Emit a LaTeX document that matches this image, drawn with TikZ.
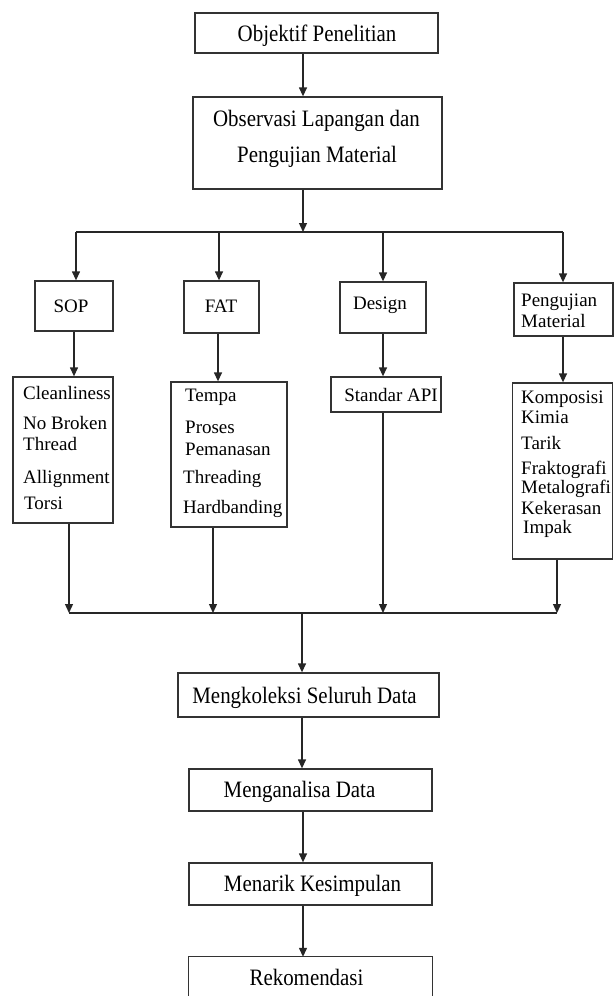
\documentclass[tikz,border=0pt]{standalone}
\usepackage{fontspec}
\setmainfont{Liberation Serif}
\newfontfamily\bigf[FakeStretch=0.89]{Liberation Serif}
\usetikzlibrary{arrows.meta}
\begin{document}
\begin{tikzpicture}[x=1pt,y=-1pt,
  bx/.style={draw=black!80, line width=1.3pt, inner sep=0pt, rectangle},
  arr/.style={draw=black!85, line width=1.3pt, -{Triangle[length=9pt,width=8pt]}},
  ln/.style={draw=black!85, line width=1.3pt},
  big/.style={inner sep=0pt, anchor=base, font=\bigf\fontsize{23.5}{28}\selectfont, text=black},
  sm/.style={inner sep=0pt, anchor=base west, font=\fontsize{19}{22}\selectfont, text=black},
  smc/.style={sm, anchor=base},
]
\useasboundingbox (0,0) rectangle (614,996);

% main column boxes
\node[bx, minimum width=243pt, minimum height=40pt] (obj) at (316.5,33) {};
\node[big] (objt) at (317,41) {Objektif Penelitian};
\node[bx, minimum width=249pt, minimum height=92pt] (obs) at (317.5,143) {};
\node[big] (obst1) at (316.5,126) {Observasi Lapangan dan};
\node[big] (obst2) at (317,162) {Pengujian Material};

% second row boxes
\node[bx, minimum width=78pt, minimum height=50pt] (sop) at (74,306) {};
\node[smc] (sopt) at (71,312) {SOP};
\node[bx, minimum width=75pt, minimum height=52pt] (fat) at (221.5,307) {};
\node[smc] (fatt) at (221,312) {FAT};
\node[bx, minimum width=86pt, minimum height=51pt] (des) at (383,307.5) {};
\node[smc] (dest) at (380,309) {Design};
\node[bx, minimum width=99pt, minimum height=53pt] (peng) at (563.5,309.5) {};
\node[sm] (pengt1) at (521,306) {Pengujian};
\node[sm] (pengt2) at (521,327) {Material};

% list boxes
\node[bx, minimum width=100pt, minimum height=146pt] (cln) at (63,450) {};
\node[sm] (c1) at (23,399) {Cleanliness};
\node[sm] (c2) at (23,429) {No Broken};
\node[sm] (c3) at (23,450) {Thread};
\node[sm] (c4) at (23,483) {Allignment};
\node[sm] (c5) at (24,509) {Torsi};

\node[bx, minimum width=116pt, minimum height=145pt] (tmp) at (229,454.5) {};
\node[sm] (t1) at (185,401) {Tempa};
\node[sm] (t2) at (185,433) {Proses};
\node[sm] (t3) at (185,455) {Pemanasan};
\node[sm] (t4) at (183,483) {Threading};
\node[sm] (t5) at (183,513) {Hardbanding};

\node[bx, minimum width=110pt, minimum height=35pt] (api) at (386,394.5) {};
\node[smc] (apit) at (391,401) {Standar API};

\node[bx, minimum width=100pt, minimum height=176pt] (kom) at (562.5,471) {};
\node[sm] (k1) at (521,403) {Komposisi};
\node[sm] (k2) at (521,423) {Kimia};
\node[sm] (k3) at (521,449) {Tarik};
\node[sm] (k4) at (521,474) {Fraktografi};
\node[sm] (k5) at (521,493) {Metalografi};
\node[sm] (k6) at (521,514) {Kekerasan};
\node[sm] (k7) at (523,533) {Impak};

% lower column
\node[bx, minimum width=261pt, minimum height=44pt] (mk) at (308.5,695) {};
\node[big] (mkt) at (304.5,703) {Mengkoleksi Seluruh Data};
\node[bx, minimum width=243pt, minimum height=42pt] (ma) at (310.5,790) {};
\node[big] (mat) at (299.5,797) {Menganalisa Data};
\node[bx, minimum width=243pt, minimum height=42pt] (mn) at (310.5,884) {};
\node[big] (mnt) at (312.5,891) {Menarik Kesimpulan};
\node[inner sep=0pt, minimum width=243pt, minimum height=39pt] (rk) at (310.5,976.5) {};
\draw[bx] (rk.south west) -- (rk.north west) -- (rk.north east) -- (rk.south east);
\node[big] (rkt) at (306.5,985) {Rekomendasi};

% coordinates
\coordinate (tj) at (303,232);
\coordinate (b1) at (76,232);
\coordinate (b2) at (219,232);
\coordinate (b3) at (383,232);
\coordinate (b4) at (563,232);
\coordinate (k2x) at (218,0);
\coordinate (k4x) at (563,0);
\coordinate (d1) at (69,613);
\coordinate (d2) at (213,613);
\coordinate (d3) at (383,613);
\coordinate (d4) at (557,613);
\coordinate (bj) at (302,613);
\coordinate (mx) at (303,0);

% connectors
\draw[arr] (obj.south -| tj) -- (obs.north -| tj);
\draw[arr] (obs.south -| tj) -- (tj);
\draw[ln] (b1) -- (b4);
\draw[arr] (b1) -- (b1 |- sop.north);
\draw[arr] (b2) -- (b2 |- fat.north);
\draw[arr] (b3) -- (b3 |- des.north);
\draw[arr] (b4) -- (b4 |- peng.north);

\draw[arr] (sop.south) -- (sop.south |- cln.north);
\draw[arr] (fat.south -| k2x) -- (tmp.north -| k2x);
\draw[arr] (des.south) -- (des.south |- api.north);
\draw[arr] (peng.south -| k4x) -- (kom.north -| k4x);

\draw[arr] (cln.south -| d1) -- (d1);
\draw[arr] (tmp.south -| d2) -- (d2);
\draw[arr] (api.south -| d3) -- (d3);
\draw[arr] (kom.south -| d4) -- (d4);
\draw[ln] (d1) -- (d4);

\draw[arr] (bj) -- (bj |- mk.north);
\draw[arr] (mk.south -| bj) -- (ma.north -| bj);
\draw[arr] (ma.south -| mx) -- (mn.north -| mx);
\draw[arr] (mn.south -| mx) -- (rk.north -| mx);
\end{tikzpicture}
\end{document}
